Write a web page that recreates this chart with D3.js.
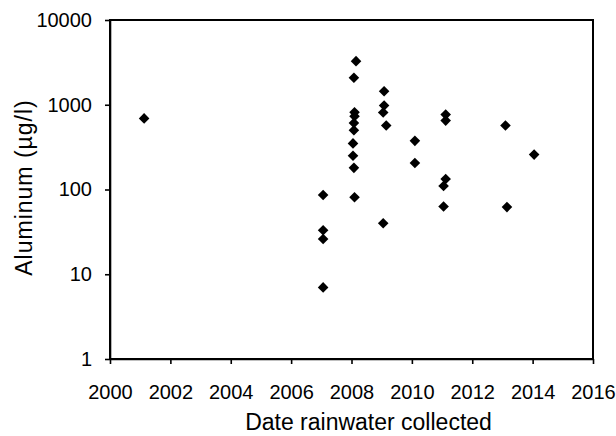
<!DOCTYPE html>
<meta charset="utf-8">
<script src="https://d3js.org/d3.v7.min.js"></script>
<style>
  body { margin: 0; background: #fff; }
  .axis text { font-family: "Liberation Sans", Arial, sans-serif; font-size: 20px; fill: #000; }
  .axis path, .axis line { stroke: #000; stroke-width: 1.6px; }
  .title { font-family: "Liberation Sans", Arial, sans-serif; font-size: 23px; fill: #000; }
</style>
<svg id="chart" width="616" height="436"></svg>
<script>
  // aluminum in rainwater samples
  var years = [2001.13,
    2007.06, 2007.06, 2007.06, 2007.06,
    2008.15, 2008.08, 2008.1, 2008.1, 2008.08, 2008.08, 2008.05, 2008.05, 2008.08, 2008.1,
    2009.08, 2009.08, 2009.05, 2009.15, 2009.05,
    2010.1, 2010.1,
    2011.12, 2011.12, 2011.12, 2011.05, 2011.05,
    2013.1, 2013.15,
    2014.05];
  var aluminum = [690,
    86, 33, 26, 7,
    3270, 2080, 815, 730, 610, 500, 350, 250, 180, 81,
    1440, 980, 810, 570, 40,
    375, 205,
    765, 650, 133, 110, 63,
    570, 62,
    258];
  var xTicks = [2000, 2002, 2004, 2006, 2008, 2010, 2012, 2014, 2016];
  var yTicks = [1, 10, 100, 1000, 10000];

  var svg = d3.select("#chart");
  var pLeft = 110, pRight = 593, pTop = 20, pBottom = 359;

  var x = d3.scaleLinear().domain([2000, 2016]).range([pLeft, pRight]);
  var y = d3.scaleLog().domain([1, 10000]).range([pBottom, pTop]);

  svg.append("g")
    .attr("class", "axis")
    .attr("transform", "translate(0," + pBottom + ")")
    .call(d3.axisBottom(x).tickValues(xTicks).tickFormat(d3.format("d")).tickSize(5).tickPadding(21).tickSizeOuter(0));

  svg.append("g")
    .attr("class", "axis")
    .attr("transform", "translate(" + pLeft + ",0)")
    .call(d3.axisLeft(y).tickValues(yTicks).tickFormat(d3.format("d")).tickSize(5).tickPadding(13).tickSizeOuter(0));

  // box round the plot
  svg.append("rect")
    .attr("x", pLeft).attr("y", pTop)
    .attr("width", pRight - pLeft).attr("height", pBottom - pTop)
    .attr("fill", "none").attr("stroke", "#000").attr("stroke-width", 2);

  var diamond = d3.symbol().type(d3.symbolSquare).size(56);
  svg.append("g")
    .selectAll("path")
    .data(years)
    .enter()
    .append("path")
    .attr("d", diamond)
    .attr("transform", function (d, i) { return "translate(" + x(d) + "," + y(aluminum[i]) + ") rotate(45)"; })
    .attr("fill", "#000");

  svg.append("text")
    .attr("class", "title")
    .attr("x", (pLeft + pRight) / 2 + 17)
    .attr("y", 430)
    .attr("text-anchor", "middle")
    .text("Date rainwater collected");

  svg.append("text")
    .attr("class", "title")
    .attr("transform", "translate(32," + ((pTop + pBottom) / 2 - 2) + ") rotate(-90)")
    .attr("text-anchor", "middle")
    .attr("letter-spacing", "1px")
    .text("Aluminum (µg/l)");
</script>
